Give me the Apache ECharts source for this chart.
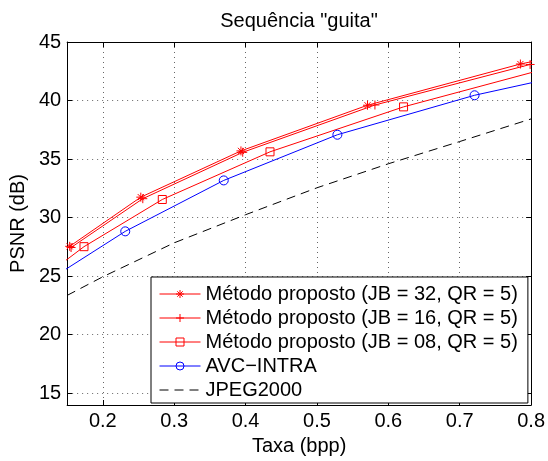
<!DOCTYPE html>
<html>
<head>
<meta charset="utf-8">
<title>Sequência "guita"</title>
<script src="https://cdn.jsdelivr.net/npm/echarts@6.0.0/dist/echarts.min.js"></script>
<style>
html, body { margin: 0; padding: 0; background: #fff; }
#echarts-container { width: 548px; height: 461px; }
</style>
</head>
<body>
<div id="echarts-container"></div>
<script>
// valores (taxa em bpp, PSNR em dB)
const xTicks = [0.2, 0.3, 0.4, 0.5, 0.6, 0.7, 0.8];
const yTicks = [15, 20, 25, 30, 35, 40, 45];

const jb32X = [0.1536, 0.2532, 0.3935, 0.5708, 0.7850, 0.95];
const jb32Y = [27.55, 31.75, 35.70, 39.60, 43.12, 45.2];

const jb16X = [0.1555, 0.2560, 0.3960, 0.5812, 0.7986];
const jb16Y = [27.45, 31.62, 35.58, 39.62, 43.08];

const jb08X = [0.12, 0.1736, 0.2833, 0.4342, 0.6213, 0.85];
const jb08Y = [25.06, 27.52, 31.55, 35.62, 39.46, 43.2];

const avcX = [0.12, 0.2314, 0.3694, 0.5286, 0.7208, 0.90];
const avcY = [24.5, 28.83, 33.18, 37.08, 40.45, 42.85];

const jpegX = [0.15, 0.2, 0.3, 0.4, 0.5, 0.6, 0.7, 0.8];
const jpegY = [23.36, 24.95, 27.85, 30.25, 32.55, 34.6, 36.5, 38.43];

const nomes = [
  'Método proposto (JB = 32, QR = 5)',
  'Método proposto (JB = 16, QR = 5)',
  'Método proposto (JB = 08, QR = 5)',
  'AVC−INTRA',
  'JPEG2000'
];

const fonte = 'Liberation Sans, Arial, Helvetica, sans-serif';
const asterisco = 'path://M0,5L10,5M5,0L5,10M1.6,1.6L8.4,8.4M1.6,8.4L8.4,1.6';
const mais = 'path://M0,5L10,5M5,0L5,10';

const pares = (xs, ys) => xs.map((x, i) => [x, ys[i]]);

function eixoX(principal) {
  return {
    type: 'value', min: 0.15, max: 0.8,
    position: principal ? 'bottom' : 'top',
    axisLine: { show: true, onZero: false, lineStyle: { color: '#000', width: 1 } },
    axisTick: { show: true, inside: true, length: 5, customValues: xTicks, lineStyle: { color: '#000' } },
    axisLabel: { show: principal, customValues: xTicks, color: '#000', fontSize: 20, fontFamily: fonte, margin: 6 },
    splitLine: { show: principal, lineStyle: { color: '#666', width: 1, type: [1, 4] } },
    name: principal ? 'Taxa (bpp)' : '', nameLocation: 'middle', nameGap: 31,
    nameTextStyle: { color: '#000', fontSize: 20, fontFamily: fonte }
  };
}

function eixoY(principal) {
  return {
    type: 'value', min: 14, max: 45,
    position: principal ? 'left' : 'right',
    axisLine: { show: true, onZero: false, lineStyle: { color: '#000', width: 1 } },
    axisTick: { show: true, inside: true, length: 5, customValues: yTicks, lineStyle: { color: '#000' } },
    axisLabel: { show: principal, customValues: yTicks, color: '#000', fontSize: 20, fontFamily: fonte, margin: 6 },
    splitLine: { show: principal, lineStyle: { color: '#666', width: 1, type: [1, 4] } },
    name: principal ? 'PSNR (dB)' : '', nameLocation: 'middle', nameGap: 33,
    nameTextStyle: { color: '#000', fontSize: 20, fontFamily: fonte }
  };
}

function serie(nome, dados, cor, simbolo, tamanho, tracejado) {
  return {
    name: nome, type: 'line', data: dados,
    symbol: simbolo, symbolSize: tamanho, showSymbol: simbolo !== 'none',
    clip: true, animation: false, silent: true,
    itemStyle: { color: 'none', borderColor: simbolo === 'none' ? 'none' : cor, borderWidth: 1 },
    lineStyle: { color: cor, width: 1, type: tracejado ? [9, 6] : 'solid' },
    emphasis: { disabled: true }
  };
}

let myChart = echarts.init(document.getElementById('echarts-container'), null, { renderer: 'canvas' });

const options = {
  backgroundColor: '#fff',
  animation: false,
  title: {
    text: 'Sequência "guita"',
    left: 294, top: 6, textAlign: 'center',
    textStyle: { color: '#000', fontSize: 20, fontWeight: 'normal', fontFamily: fonte }
  },
  grid: { left: 65, right: 15, top: 42, bottom: 51 },
  xAxis: [eixoX(true), eixoX(false)],
  yAxis: [eixoY(true), eixoY(false)],
  legend: {
    orient: 'vertical', left: 151, top: 277,
    itemWidth: 41, itemHeight: 10, itemGap: 4,
    padding: [7, 10, 3, 8],
    borderColor: '#000', borderWidth: 1, backgroundColor: '#fff',
    selectedMode: false,
    textStyle: { color: '#000', fontSize: 20, fontFamily: fonte },
    lineStyle: { width: 1 },
    data: [
      { name: nomes[0], itemStyle: { color: 'none', borderColor: '#ff0000', borderWidth: 1 } },
      { name: nomes[1], itemStyle: { color: 'none', borderColor: '#ff0000', borderWidth: 1 } },
      { name: nomes[2], itemStyle: { color: 'none', borderColor: '#ff0000', borderWidth: 1 } },
      { name: nomes[3], itemStyle: { color: 'none', borderColor: '#0000ff', borderWidth: 1 } },
      { name: nomes[4], itemStyle: { color: 'none', borderColor: 'none', borderWidth: 0 } }
    ]
  },
  series: [
    serie(nomes[0], pares(jb32X, jb32Y), '#ff0000', asterisco, 9, false),
    serie(nomes[1], pares(jb16X, jb16Y), '#ff0000', mais, 9, false),
    serie(nomes[2], pares(jb08X, jb08Y), '#ff0000', 'rect', 8, false),
    serie(nomes[3], pares(avcX, avcY), '#0000ff', 'circle', 9, false),
    serie(nomes[4], pares(jpegX, jpegY), '#000000', 'none', 0, true)
  ]
};

myChart.setOption(options);
</script>
</body>
</html>
